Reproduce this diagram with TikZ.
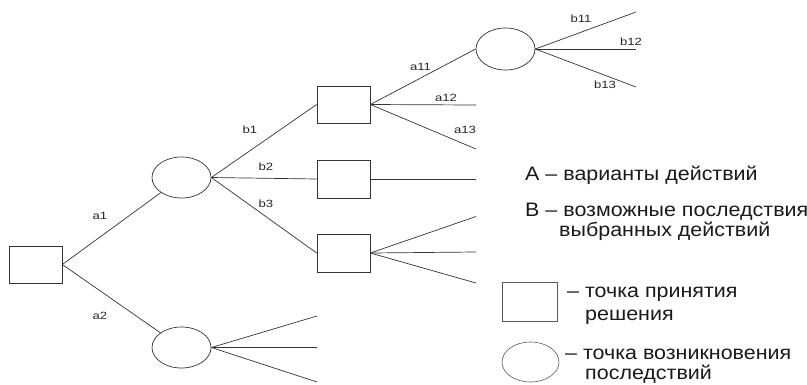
\documentclass[tikz,border=0pt]{standalone}
\usepackage{fontspec}
\setmainfont{Liberation Sans}
\usetikzlibrary{shapes.geometric}
\tikzset{
  ln/.style={draw=black!80, line width=0.7pt},
  dec/.style={ln, rectangle, minimum width=53pt, minimum height=37pt, inner sep=0pt},
  cons/.style={ln, ellipse, minimum width=59pt, minimum height=41pt, inner sep=0pt},
  lbl/.style={font=\fontsize{10.5}{12}\selectfont, xscale=1.25, inner sep=0pt, text=black!85},
  leg/.style={font=\fontsize{19.5}{22}\selectfont, xscale=1.1, inner sep=0pt, anchor=base west, text=black!90},
  legshape/.style={ln, inner sep=0pt, draw=black!65, line width=0.6pt},
}
\begin{document}
\begin{tikzpicture}[x=1pt, y=-1pt]
\useasboundingbox (0,0) rectangle (807,384);
% nodes
\node[dec] (root) at (35.5,264.5) {};
\node[cons] (e1) at (181.5,177.5) {};
\node[cons] (e2) at (181.5,347.5) {};
\node[dec] (r1) at (343.5,104.5) {};
\node[dec, minimum height=38pt] (r2) at (343.5,179) {};
\node[dec, minimum height=38pt] (r3) at (343.5,253) {};
\node[cons, minimum height=42pt] (e3) at (505.5,49) {};
% free ends
\coordinate (e2a) at (317,316);
\coordinate (e2b) at (317,347.5);
\coordinate (e2c) at (317,382);
\coordinate (r2a) at (476,179);
\coordinate (r3a) at (476,216.5);
\coordinate (r3b) at (476,252);
\coordinate (r3c) at (476,283);
\coordinate (r1b) at (476,105);
\coordinate (r1c) at (476,149);
\coordinate (e3a) at (636,12);
\coordinate (e3b) at (636,49);
\coordinate (e3c) at (636,87);
% connectors
\draw[ln] (root.east) -- (e1);
\draw[ln] (root.east) -- (e2);
\draw[ln] (e1.east) -- (r1.west);
\draw[ln] (e1.east) -- (r2.west);
\draw[ln] (e1.east) -- (r3.west);
\draw[ln] (e2.east) -- (e2a);
\draw[ln] (e2.east) -- (e2b);
\draw[ln] (e2.east) -- (e2c);
\draw[ln] (r2.east) -- (r2a);
\draw[ln] (r3.east) -- (r3a);
\draw[ln] (r3.east) -- (r3b);
\draw[ln] (r3.east) -- (r3c);
\draw[ln] (r1.east) -- (e3.west);
\draw[ln] (r1.east) -- (r1b);
\draw[ln] (r1.east) -- (r1c);
\draw[ln] (e3.east) -- (e3a);
\draw[ln] (e3.east) -- (e3b);
\draw[ln] (e3.east) -- (e3c);
% labels
\node[lbl] (la1) at (100,215.5) {a1};
\node[lbl] (la2) at (100,316) {a2};
\node[lbl] (lb1) at (250,130) {b1};
\node[lbl] (lb2) at (266,167) {b2};
\node[lbl] (lb3) at (266,204) {b3};
\node[lbl] (la11) at (420.5,67) {a11};
\node[lbl] (la12) at (446,98) {a12};
\node[lbl] (la13) at (465,130) {a13};
\node[lbl] (lb11) at (581,19) {b11};
\node[lbl] (lb12) at (631,42) {b12};
\node[lbl] (lb13) at (605,85) {b13};
% legend
\node[leg] (tA) at (525,180.7) {А – варианты действий};
\node[leg] (tB1) at (525,216) {В – возможные последствия};
\node[leg] (tB2) at (559,236) {выбранных действий};
\node[legshape, rectangle, minimum width=55pt, minimum height=39pt] (legr) at (529.5,301.5) {};
\node[leg] (tr1) at (567,297) {– точка принятия};
\node[leg] (tr2) at (585,320) {решения};
\node[legshape, ellipse, minimum width=57pt, minimum height=40pt] (lege) at (530.5,362) {};
\node[leg] (te1) at (565,359.5) {– точка возникновения};
\node[leg] (te2) at (585,379) {последствий};
\end{tikzpicture}
\end{document}
